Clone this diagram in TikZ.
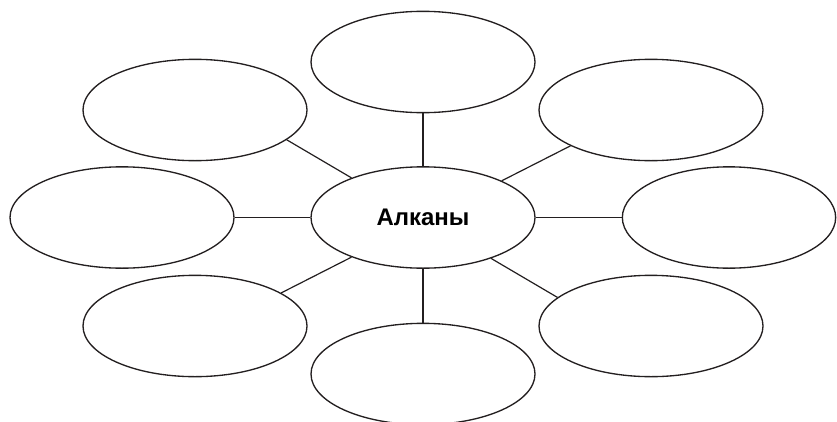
\documentclass[tikz,border=0pt]{standalone}
\usepackage{fontspec}
\setmainfont{Liberation Sans}
\usetikzlibrary{shapes.geometric}
\tikzset{
  bubble/.style={draw=ink, line width=1pt, ellipse, inner sep=0pt,
    minimum width=168pt, minimum height=76pt},
  spoke/.style={draw=ink, line width=0.9pt}
}
\definecolor{ink}{HTML}{231F20}
\begin{document}
\begin{tikzpicture}[x=0.75pt, y=-0.75pt]
            \useasboundingbox (0, 0) rectangle (837, 421);
            \node[bubble] (core) at (423, 217.5) {\bfseries\fontsize{18}{20}\selectfont Алканы};
            \node[bubble] (top) at (423, 62) {};
            \node[bubble] (bottom) at (423, 374) {};
            \node[bubble] (left) at (122, 217.5) {};
            \node[bubble, minimum width=160pt] (right) at (729, 217.5) {};
            \node[bubble] (upleft) at (195, 110) {};
            \node[bubble] (upright) at (651, 110) {};
            \node[bubble] (lowleft) at (195, 326) {};
            \node[bubble] (lowright) at (651, 326) {};
            \draw[spoke] (core.north) -- (top.south);
            \draw[spoke] (core.south) -- (bottom.north);
            \draw[spoke] (core.west) -- (left.east);
            \draw[spoke] (core.east) -- (right.west);
            \draw[spoke] (core.151) -- (upleft.-18);
            \draw[spoke] (core.209) -- (lowleft.21);
            \draw[spoke] (core.25) -- (upright.204);
            \draw[spoke] (core.329) -- (lowright.163);
        \end{tikzpicture}
\end{document}
